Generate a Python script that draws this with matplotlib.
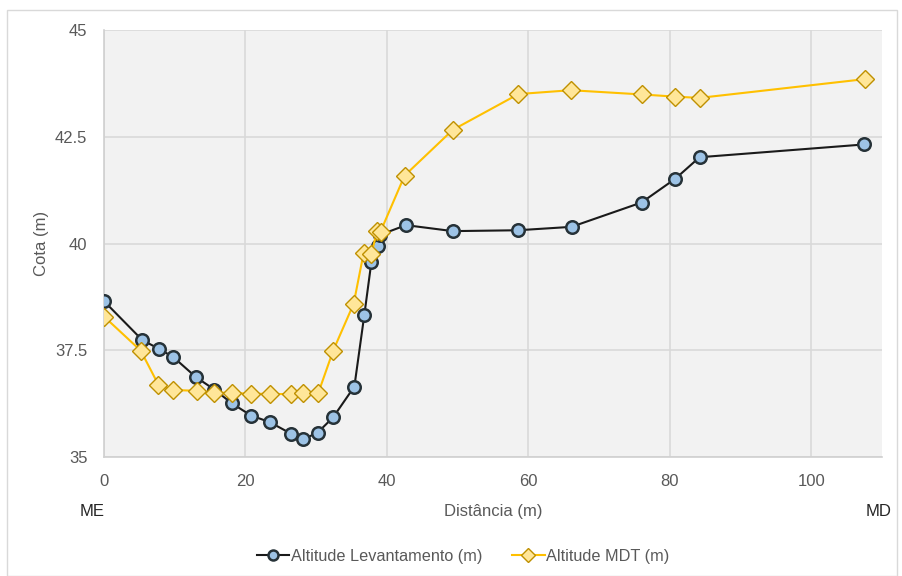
import matplotlib
matplotlib.use('Agg')
import matplotlib.pyplot as plt
from matplotlib.patches import Rectangle

plt.rcParams['font.family'] = ['Liberation Sans', 'DejaVu Sans']

# distances (m)
dist_lev = [0, 5.4, 7.8, 9.8, 13.0, 15.6, 18.05, 20.8, 23.4, 26.4, 28.1, 30.2, 32.4,
            35.4, 36.8, 37.8, 38.7, 39.0, 42.7, 49.3, 58.5, 66.1, 76.0, 80.8, 84.2, 107.5]
alt_lev = [38.65, 37.74, 37.53, 37.34, 36.87, 36.58, 36.26, 35.97, 35.82, 35.55, 35.41,
           35.57, 35.93, 36.65, 38.32, 39.56, 39.95, 40.20, 40.43, 40.29, 40.31, 40.39,
           40.96, 41.52, 42.02, 42.32]

dist_mdt = [0, 5.2, 7.7, 9.7, 13.1, 15.6, 18.1, 20.8, 23.4, 26.4, 28.1, 30.3, 32.4,
            35.3, 36.7, 37.8, 38.6, 39.1, 42.5, 49.3, 58.6, 66.0, 76.1, 80.7, 84.2, 107.6]
alt_mdt = [38.29, 37.49, 36.69, 36.57, 36.55, 36.51, 36.50, 36.48, 36.48, 36.47, 36.50,
           36.50, 37.49, 38.59, 39.77, 39.75, 40.29, 40.28, 41.59, 42.66, 43.50, 43.59,
           43.49, 43.44, 43.41, 43.85]

yticks = [35, 37.5, 40, 42.5, 45]
ytick_labels = ['35', '37.5', '40', '42.5', '45']

fig = plt.figure(figsize=(9.02, 5.76), dpi=100)
ax = fig.add_axes([104 / 902, 1 - 457 / 576, 778 / 902, 427 / 576])
ax.set_facecolor('#F2F2F2')

txt = '#595959'
ax.plot(dist_lev, alt_lev, '-', color='#1A1A1A', lw=1.5, marker='o', ms=9,
        mfc='#9DC3E6', mec='#263238', mew=1.8, label='Altitude Levantamento (m)', zorder=3)
ax.plot(dist_mdt, alt_mdt, '-', color='#FFC000', lw=1.5, marker='D', ms=9,
        mfc='#FFE699', mec='#BF9000', mew=1.0, label='Altitude MDT (m)', zorder=4)

ax.set_xlim(0, 110)
ax.set_ylim(35, 45)
ax.set_xticks(range(0, 101, 20))
ax.set_yticks(yticks)
ax.set_yticklabels(ytick_labels)
ax.grid(True, color='#D9D9D9', lw=1.2)
ax.set_axisbelow(True)
for s in ['top', 'right']:
    ax.spines[s].set_visible(False)
for s in ['left', 'bottom']:
    ax.spines[s].set_color('#D0D0D0')
    ax.spines[s].set_linewidth(1.2)
ax.tick_params(length=0, labelsize=12, colors=txt, pad=12)

ax.set_xlabel('Distância (m)', fontsize=12, color=txt, labelpad=11)
ax.set_ylabel('Cota (m)', fontsize=12, color=txt, labelpad=4)

fig.text(92 / 902, 1 - 512 / 576, 'ME', fontsize=12, color='#262626', ha='center', va='center')
fig.text(879 / 902, 1 - 512 / 576, 'MD', fontsize=12, color='#262626', ha='center', va='center')

leg = fig.legend(loc='center', bbox_to_anchor=(463 / 902, 1 - 556 / 576), ncol=2,
                 frameon=False, fontsize=11.7, handlelength=2.0, columnspacing=1.85,
                 handletextpad=0.1, markerscale=0.8)
for t in leg.get_texts():
    t.set_color(txt)

fig.patches.append(Rectangle((7 / 902, 0), 890 / 902, 1 - 10 / 576, transform=fig.transFigure,
                             fill=False, edgecolor='#D9D9D9', lw=1.0))

fig.savefig('out.png', dpi=100)
